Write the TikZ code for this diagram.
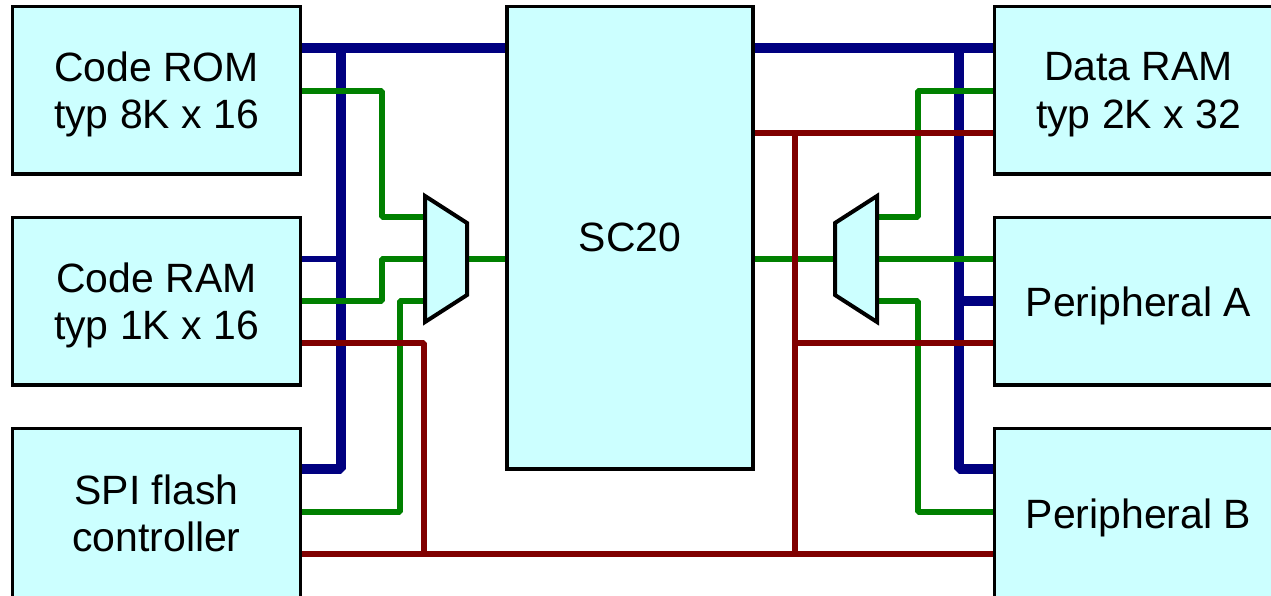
\documentclass[tikz,border=0pt]{standalone}
\usepackage{fontspec}
\setmainfont{Liberation Sans}
\usetikzlibrary{backgrounds}
\definecolor{boxfill}{RGB}{204,255,255}
\definecolor{busblue}{RGB}{0,0,128}
\definecolor{busgreen}{RGB}{0,128,0}
\definecolor{busred}{RGB}{128,0,0}
\tikzset{
	unit/.style={draw=black, fill=boxfill, line width=0.07cm, outer sep=0pt, anchor=north west, inner sep=0pt, align=center, text depth=0pt, minimum width=5.76cm, minimum height=3.35cm, font=\fontsize{23.3}{27.2}\selectfont},
	mux/.style={draw=black, fill=boxfill, line width=0.08cm},
	databus/.style={draw=busblue, line width=0.2cm, line join=bevel},
	addrbus/.style={draw=busblue, line width=0.13cm},
	codebus/.style={draw=busgreen, line width=0.13cm, line join=bevel},
	ctrlbus/.style={draw=busred, line width=0.13cm, line join=bevel},
}
\begin{document}
\begin{tikzpicture}[x=0.02cm, y=-0.02cm]
	\useasboundingbox (0,0) rectangle (1271,595);

	% left column
	\node[unit] (coderom) at (12.5,6.5) {Code ROM\\typ 8K x 16};
	\node[unit] (coderam) at (12.5,217.5) {Code RAM\\typ 1K x 16};
	\node[unit, minimum height=3.39cm] (spiflash) at (12.5,428.5) {SPI flash\\controller};
	% core
	\node[unit, minimum width=4.92cm, minimum height=9.25cm] (core) at (507,6.5) {SC20};
	% right column
	\node[unit] (dataram) at (994.5,6.5) {Data RAM\\typ 2K x 32};
	\node[unit] (perisa) at (994.5,217.5) {Peripheral A};
	\node[unit, minimum height=3.39cm] (perisb) at (994.5,428.5) {Peripheral B};

	% multiplexers
	\filldraw[mux] (425,196) -- (467,223) -- (467,295) -- (425,322) -- cycle;
	\filldraw[mux] (877,196) -- (835,223) -- (835,295) -- (877,322) -- cycle;
	\coordinate (muxl) at (467,259);
	\coordinate (muxr) at (835,259);
	\coordinate (muxla) at (425,217);
	\coordinate (muxlb) at (425,259);
	\coordinate (muxlc) at (425,301);
	\coordinate (muxra) at (877,217);
	\coordinate (muxrb) at (877,259);
	\coordinate (muxrc) at (877,301);

	\begin{pgfonlayer}{background}
		% blue
		\draw[databus] (coderom.east |- 0,48) -- (core.west |- 0,48);
		\draw[databus] (341,48) -- (341,469) -- (spiflash.east |- 0,469);
		\draw[addrbus] (coderam.east |- 0,259) -- (341,259);
		\draw[databus] (core.east |- 0,48) -- (dataram.west |- 0,48);
		\draw[databus] (959,48) -- (959,469) -- (perisb.west |- 0,469);
		\draw[databus] (959,301) -- (perisa.west |- 0,301);

		% green
		\draw[codebus] (coderom.east |- 0,91) -| (382,217) -- (muxla);
		\draw[codebus] (coderam.east |- 0,301) -| (382,259) -- (muxlb);
		\draw[codebus] (spiflash.east |- 0,512) -| (400,301) -- (muxlc);
		\draw[codebus] (muxl) -- (core.west |- 0,259);
		\draw[codebus] (core.east |- 0,259) -- (muxr);
		\draw[codebus] (dataram.west |- 0,91) -| (918,217) -- (muxra);
		\draw[codebus] (muxrb) -- (perisa.west |- 0,259);
		\draw[codebus] (perisb.west |- 0,512) -| (918,301) -- (muxrc);

		% red
		\draw[ctrlbus] (coderam.east |- 0,343) -| (424,554);
		\draw[ctrlbus] (spiflash.east |- 0,554) -- (perisb.west |- 0,554);
		\draw[ctrlbus] (core.east |- 0,133) -- (dataram.west |- 0,133);
		\draw[ctrlbus] (795,133) -- (795,554);
		\draw[ctrlbus] (795,343) -- (perisa.west |- 0,343);
	\end{pgfonlayer}
\end{tikzpicture}
\end{document}
